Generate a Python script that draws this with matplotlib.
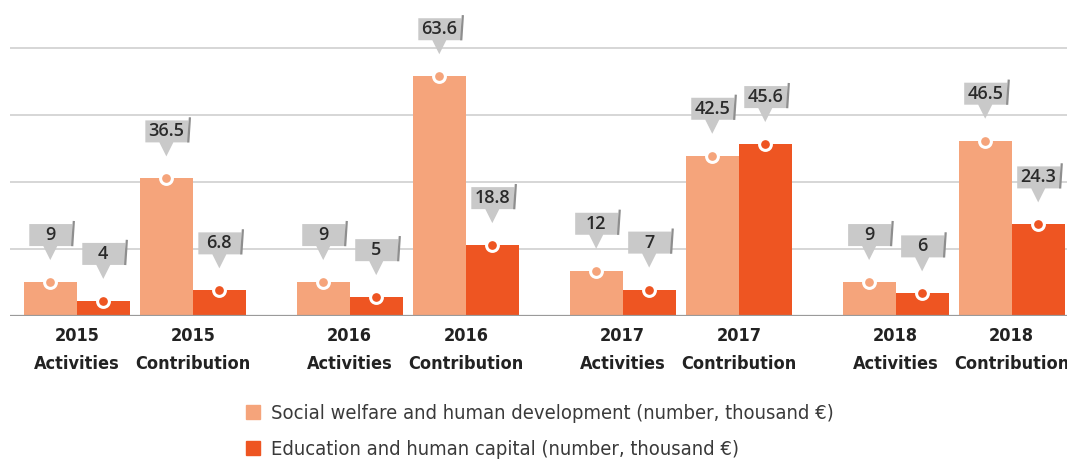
import matplotlib
matplotlib.use("Agg")
import matplotlib.pyplot as plt
import matplotlib.transforms as mtransforms
from matplotlib.patches import Polygon, Rectangle
from matplotlib.lines import Line2D

years = ["2015", "2015", "2016", "2016", "2017", "2017", "2018", "2018"]
kinds = ["Activities", "Contribution"] * 4
social = [9, 36.5, 9, 63.6, 12, 42.5, 9, 46.5]
education = [4, 6.8, 5, 18.8, 7, 45.6, 6, 24.3]
series_names = ["Social welfare and human development (number, thousand \u20ac)",
                "Education and human capital (number, thousand \u20ac)"]
light = "#F5A47B"
dark = "#EE5522"

W, H = 1067, 461
fig = plt.figure(figsize=(W / 100, H / 100), dpi=100)
ax = fig.add_axes([10 / W, (H - 316) / H, (W - 10) / W, 316 / H])

centers = [1.26 + (i // 2) * 5.15 + (i % 2) * 2.19 for i in range(len(years))]
ax.set_xlim(0, (W - 10) / 53.0)
ax.set_ylim(0, 316 / 3.77)

for yv in [17.8, 35.6, 53.4, 71.2]:
    ax.axhline(yv, color="#d0d0d0", lw=1.2, zorder=0)
ax.axhline(0, color="#9a9a9a", lw=1.6, zorder=3)

xl = [c - 0.5 for c in centers]
xd = [c + 0.5 for c in centers]
ax.bar(xl, social, width=1.0, color=light, zorder=2, label=series_names[0])
ax.bar(xd, education, width=1.0, color=dark, zorder=2, label=series_names[1])

ax.plot(xl, social, "o", ls="none", ms=8.5, mfc=light, mec="white", mew=2.2, zorder=4, clip_on=False)
ax.plot(xd, education, "o", ls="none", ms=8.5, mfc=dark, mec="white", mew=2.2, zorder=4, clip_on=False)


def callout(x, y, txt):
    tr = mtransforms.Affine2D() + mtransforms.ScaledTranslation(x, y, ax.transData)
    poly = Polygon([(-21, 58), (22, 58), (22, 36), (7, 36), (0, 22), (-7, 36), (-21, 36)],
                   closed=True, facecolor="#c9c9c9", edgecolor="none",
                   transform=tr, zorder=5, clip_on=False)
    ax.add_patch(poly)
    ax.add_line(Line2D([22, 23.5], [37, 60], color="#8e8e8e", lw=1.6,
                       transform=tr, zorder=6, clip_on=False))
    ax.text(0, 47, txt, transform=tr, ha="center", va="center",
            fontsize=13, fontweight="semibold", family="Open Sans",
            color="#2a2a2a", zorder=7, clip_on=False)


def fmt(v):
    return ("%g" % v)

for x, v in zip(xl, social):
    callout(x, v, fmt(v))
for x, v in zip(xd, education):
    callout(x, v, fmt(v))

ax.set_xticks(centers)
ax.set_xticklabels([f"{y}\n{k}" for y, k in zip(years, kinds)],
                   fontsize=13, fontweight="bold", fontstretch="condensed",
                   family="DejaVu Sans", color="#222222", linespacing=1.7)
ax.tick_params(axis="x", length=0, pad=8)
ax.set_yticks([])
for s in ax.spines.values():
    s.set_visible(False)

handles = [Rectangle((0, 0), 1, 1, color=light), Rectangle((0, 0), 1, 1, color=dark)]
leg = fig.legend(handles, series_names, loc="upper left",
                 bbox_to_anchor=(228 / W, 1 - 386 / H), frameon=False,
                 handlelength=0.7, handleheight=0.7, handletextpad=0.55,
                 labelspacing=0.85,
                 prop={"family": "DejaVu Sans", "stretch": "condensed", "size": 14.5})
for t in leg.get_texts():
    t.set_color("#3a3a3a")

fig.savefig("out.png", dpi=100)
